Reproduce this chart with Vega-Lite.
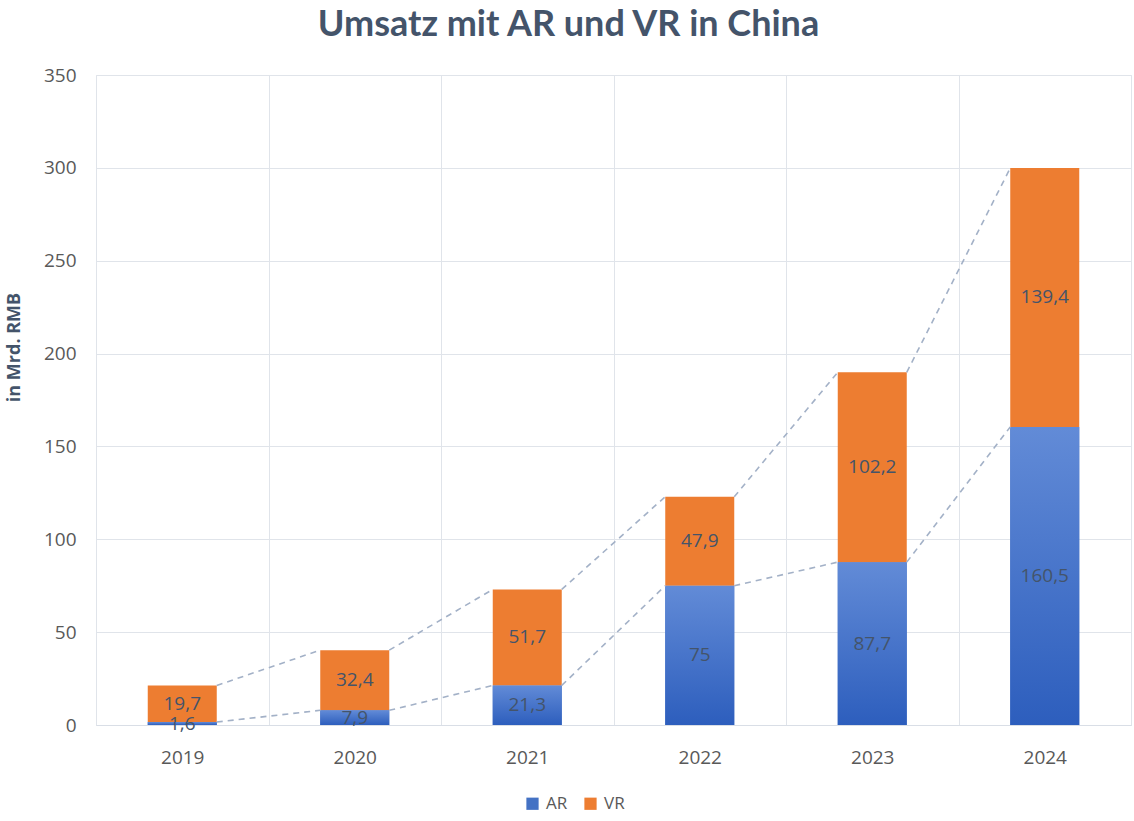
{
  "$schema": "https://vega.github.io/schema/vega-lite/v6.json",
  "autosize": {"type": "none"},
  "width": 1035,
  "height": 650,
  "padding": {"left": 96, "top": 75, "right": 3, "bottom": 96},
  "background": "white",
  "title": {
    "text": "Umsatz mit AR und VR in China",
    "font": "Lato",
    "fontSize": 36,
    "fontWeight": "bold",
    "color": "#44546A",
    "anchor": "middle",
    "dx": -45,
    "offset": 22
  },
  "data": {
    "values": [
      {"year": "2019", "series": "AR", "value": 1.6},
      {"year": "2019", "series": "VR", "value": 19.7},
      {"year": "2020", "series": "AR", "value": 7.9},
      {"year": "2020", "series": "VR", "value": 32.4},
      {"year": "2021", "series": "AR", "value": 21.3},
      {"year": "2021", "series": "VR", "value": 51.7},
      {"year": "2022", "series": "AR", "value": 75},
      {"year": "2022", "series": "VR", "value": 47.9},
      {"year": "2023", "series": "AR", "value": 87.7},
      {"year": "2023", "series": "VR", "value": 102.2},
      {"year": "2024", "series": "AR", "value": 160.5},
      {"year": "2024", "series": "VR", "value": 139.4}
    ]
  },
  "transform": [
    {"stack": "value", "groupby": ["year"], "sort": [{"field": "series", "order": "ascending"}], "as": ["v0", "v1"]},
    {"calculate": "(datum.v0 + datum.v1) / 2", "as": "mid"},
    {"window": [{"op": "lead", "field": "v1", "as": "next_v1"}, {"op": "lead", "field": "year", "as": "next_year"}], "groupby": ["series"], "sort": [{"field": "year", "order": "ascending"}]}
  ],
  "encoding": {
    "x": {
      "field": "year",
      "type": "nominal",
      "title": null,
      "scale": {"paddingInner": 0, "paddingOuter": 0},
      "axis": {
        "labelAngle": 0,
        "labelFont": "Open Sans",
        "labelFontSize": 19,
        "labelColor": "#595959",
        "labelPadding": 23,
        "ticks": false,
        "domain": true,
        "domainColor": "#D9DEE6",
        "grid": true,
        "gridColor": "#E0E4EA",
        "tickBand": "extent"
      }
    }
  },
  "layer": [
    {
      "mark": {"type": "bar", "width": {"band": 0.4}},
      "encoding": {
        "y": {
          "field": "v0",
          "type": "quantitative",
          "scale": {"domain": [0, 350]},
          "title": "in Mrd. RMB",
          "axis": {
            "values": [0, 50, 100, 150, 200, 250, 300, 350],
            "labelFont": "Open Sans",
            "labelFontSize": 19,
            "labelColor": "#595959",
            "labelPadding": 20,
            "ticks": false,
            "domain": false,
            "gridColor": "#E0E4EA",
            "titleFont": "Open Sans",
            "titleFontSize": 18,
            "titleFontWeight": "bold",
            "titleColor": "#44546A",
            "titlePadding": 20,
            "titleY": 272
          }
        },
        "y2": {"field": "v1"},
        "color": {
          "field": "series",
          "type": "nominal",
          "scale": {"domain": ["AR", "VR"], "range": ["#4472C4", "#ED7D31"]},
          "legend": {
            "title": null,
            "orient": "none",
            "direction": "horizontal",
            "legendX": 428,
            "legendY": 720,
            "symbolType": "square",
            "symbolSize": 150,
            "symbolStrokeWidth": 0,
            "labelFont": "Open Sans",
            "labelFontSize": 17,
            "labelColor": "#595959",
            "columnPadding": 14,
            "labelOffset": 5
          }
        }
      }
    },
    {
      "transform": [{"filter": "datum.series === 'AR'"}],
      "mark": {
        "type": "bar",
        "width": {"band": 0.4},
        "fill": {
          "gradient": "linear",
          "x1": 0, "y1": 0, "x2": 0, "y2": 1,
          "stops": [
            {"offset": 0, "color": "#628BD7"},
            {"offset": 1, "color": "#2D5EBD"}
          ]
        }
      },
      "encoding": {
        "y": {"field": "v0", "type": "quantitative"},
        "y2": {"field": "v1"}
      }
    },
    {
      "transform": [{"filter": "datum.next_year != null"}],
      "mark": {"type": "rule", "color": "#A3B1C7", "strokeDash": [6, 5], "strokeWidth": 1.6},
      "encoding": {
        "x": {"field": "year", "type": "nominal", "bandPosition": 0.7},
        "x2": {"field": "next_year", "bandPosition": 0.3},
        "y": {"field": "v1", "type": "quantitative"},
        "y2": {"field": "next_v1"}
      }
    },
    {
      "mark": {"type": "text", "font": "Open Sans", "fontSize": 19, "color": "#44546A", "baseline": "middle"},
      "encoding": {
        "y": {"field": "mid", "type": "quantitative"},
        "text": {"field": "value", "type": "quantitative", "format": ".4~r"}
      }
    }
  ],
  "config": {
    "view": {"stroke": "#E0E4EA"},
    "locale": {"number": {"decimal": ",", "thousands": ".", "grouping": [3], "currency": ["", " €"]}}
  }
}
